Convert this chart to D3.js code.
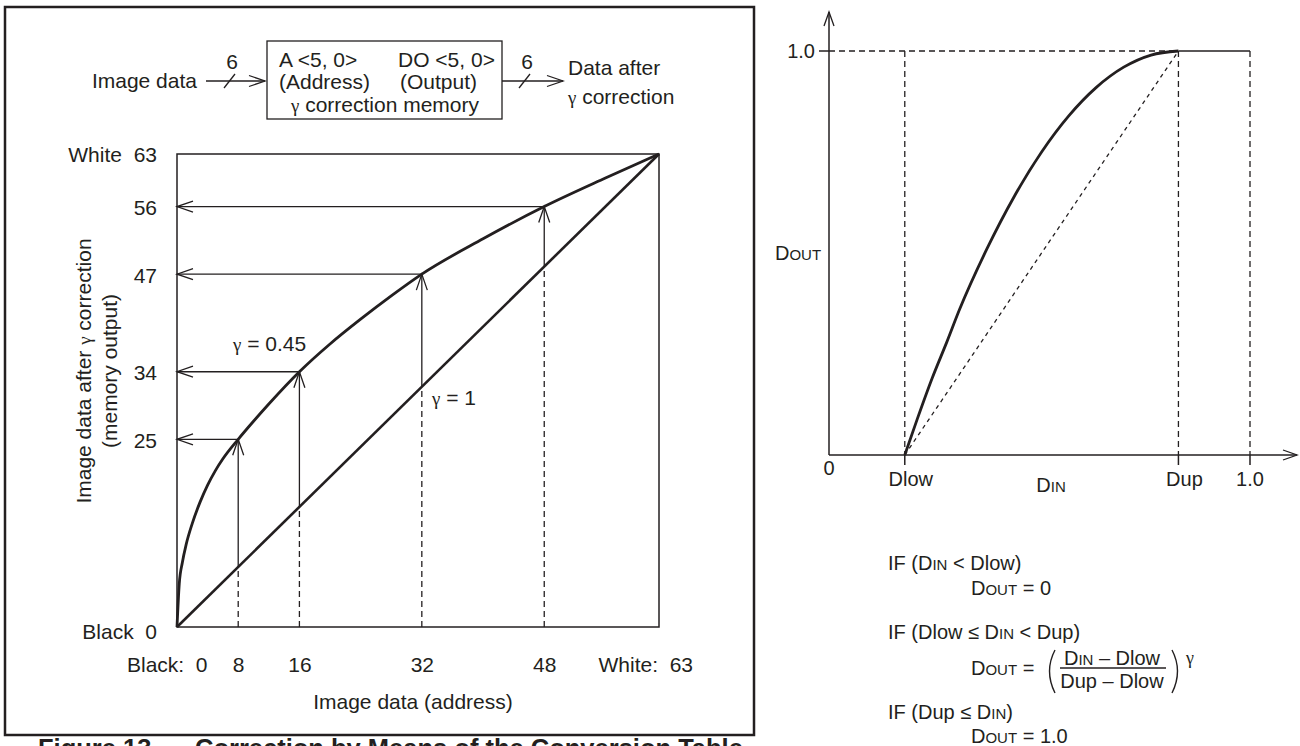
<!DOCTYPE html>
<html>
<head>
<meta charset="utf-8">
<script src="https://cdn.jsdelivr.net/npm/d3@7"></script>
<style>
  body { margin: 0; background: #fff; }
  svg text { font-family: "Liberation Sans", Arial, sans-serif; fill: #231f20; }
  svg .gam { font-family: "Liberation Serif", "DejaVu Serif", serif; }
</style>
</head>
<body>
<svg id="chart" width="1300" height="746"></svg>
<script>
// left chart: 6-bit gamma table (gamma = 0.45)
const addrTicks = [0, 8, 16, 32, 48, 63];
const addrLabels = ['Black:\u00a0 0', '8', '16', '32', '48', 'White:\u00a0 63'];
const outTicks = [0, 25, 34, 47, 56, 63];
const outLabels = ['Black\u00a0 0', '25', '34', '47', '56', 'White\u00a0 63'];
const sampleAddr = [8, 16, 32, 48];
const sampleOut = [25, 34, 47, 56];
// gamma 0.45 curve
const curveAddr = [0, 0.3, 0.7, 1.2, 2, 3, 4, 5, 6, 8, 10, 12, 16, 20, 24, 28, 32, 40, 48, 56, 63];
const curveOut = [0, 5.8, 8.6, 11.0, 13.8, 16.6, 18.9, 20.8, 22.4, 25, 27.4, 29.7, 34, 37.7, 41.0, 44.1, 47, 51.7, 56, 59.8, 63];
const linAddr = [0, 63];
const linOut = [0, 63];

// right chart: generic transfer function
const dLow = 0.18;
const dUp = 0.83;
const dinTicks = [0, dLow, dUp, 1.0];
const dinLabels = ['0', 'Dlow', 'Dup', '1.0'];
const tfIn = [0.18, 0.21, 0.245, 0.28, 0.31, 0.375, 0.44, 0.505, 0.57, 0.635, 0.70, 0.765, 0.83];
const tfOut = [0, 0.09, 0.19, 0.28, 0.36, 0.51, 0.64, 0.75, 0.84, 0.91, 0.96, 0.99, 1.0];

const ink = '#231f20';
const svg = d3.select('#chart');

// open arrow head, tip at (x, y), pointing along dir
function head(g, x, y, dir, len = 16, half = 5.5) {
  const bx = x - len * Math.cos(dir), by = y - len * Math.sin(dir);
  const px = -Math.sin(dir) * half, py = Math.cos(dir) * half;
  g.append('path')
    .attr('d', `M${bx + px},${by + py}L${x},${y}L${bx - px},${by - py}`)
    .attr('fill', 'none').attr('stroke', ink).attr('stroke-width', 1.3);
}

function line(g, x1, y1, x2, y2, w = 1.3, dash = null) {
  return g.append('line')
    .attr('x1', x1).attr('y1', y1).attr('x2', x2).attr('y2', y2)
    .attr('stroke', ink).attr('stroke-width', w)
    .attr('stroke-dasharray', dash);
}

// text made of pieces: [string, kind] kind: 0 normal, 1 small caps, 2 gamma
function rich(g, x, y, parts, size, anchor = 'start') {
  const t = g.append('text').attr('x', x).attr('y', y)
    .attr('text-anchor', anchor).style('font-size', size + 'px');
  parts.forEach(([s, k]) => {
    const sp = t.append('tspan').text(s);
    if (k === 1) sp.style('font-size', (size * 0.75) + 'px');
    if (k === 2) sp.attr('class', 'gam').style('font-size', (size * 0.9) + 'px');
  });
  return t;
}

// ---------- left panel ----------
const left = svg.append('g');
left.append('rect')
  .attr('x', 5).attr('y', 7).attr('width', 749).attr('height', 728)
  .attr('fill', 'none').attr('stroke', ink).attr('stroke-width', 2.5);

// caption, cut by the bottom edge as in the source
svg.append('text').attr('x', 38).attr('y', 757)
  .style('font-size', '25.5px').style('font-weight', 'bold').text('Figure 13');
svg.append('text').attr('x', 195).attr('y', 757)
  .style('font-size', '25.5px').style('font-weight', 'bold')
  .text('Correction by Means of the Conversion Table');

// block diagram
const blk = left.append('g');
blk.append('rect').attr('x', 267).attr('y', 41).attr('width', 235).attr('height', 78)
  .attr('fill', 'none').attr('stroke', ink).attr('stroke-width', 1.3);
rich(blk, 197, 88, [['Image data', 0]], 21, 'end');
line(blk, 206, 81, 265, 81);
head(blk, 265, 81, 0);
line(blk, 224, 88, 235, 74);
rich(blk, 232, 69, [['6', 0]], 21, 'middle');
rich(blk, 279, 67, [['A <5, 0>', 0]], 21);
rich(blk, 279, 89, [['(Address)', 0]], 21);
rich(blk, 398, 67, [['DO <5, 0>', 0]], 21);
rich(blk, 400, 89, [['(Output)', 0]], 21);
rich(blk, 385, 112, [['γ', 2], [' correction memory', 0]], 21, 'middle');
line(blk, 502, 81, 563, 81);
head(blk, 563, 81, 0);
line(blk, 519, 88, 530, 74);
rich(blk, 527, 69, [['6', 0]], 21, 'middle');
rich(blk, 568, 75, [['Data after', 0]], 21);
rich(blk, 568, 104, [['γ', 2], [' correction', 0]], 21);

// plot
const x = d3.scaleLinear().domain([0, 63]).range([177, 659]);
const y = d3.scaleLinear().domain([0, 63]).range([627, 154]);
const plot = left.append('g');

plot.append('rect')
  .attr('x', x(0)).attr('y', y(63))
  .attr('width', x(63) - x(0)).attr('height', y(0) - y(63))
  .attr('fill', 'none').attr('stroke', ink).attr('stroke-width', 1.5);

const yAxis = plot.append('g').attr('transform', `translate(${x(0)},0)`)
  .call(d3.axisLeft(y).tickValues(outTicks).tickSize(0).tickPadding(20)
    .tickFormat((d, i) => outLabels[i]));
const xAxis = plot.append('g').attr('transform', `translate(0,${y(0)})`)
  .call(d3.axisBottom(x).tickValues(addrTicks).tickSize(0).tickPadding(30)
    .tickFormat((d, i) => addrLabels[i]));
[yAxis, xAxis].forEach(a => {
  a.select('.domain').remove();
  a.selectAll('text').attr('fill', ink).style('font-size', '21px')
    .style('font-family', '"Liberation Sans", Arial, sans-serif');
});
yAxis.selectAll('text').attr('dy', d => d === 0 ? '0.57em' : '0.38em');
xAxis.selectAll('text')
  .attr('text-anchor', d => d === 0 ? 'end' : d === 63 ? 'start' : 'middle')
  .attr('x', d => d === 0 ? 30 : d === 63 ? -61 : 0);

// sample arrows
sampleAddr.forEach((a, i) => {
  const px = x(a), pDiag = y(a), pOut = y(sampleOut[i]);
  line(plot, px, y(0), px, pDiag, 1.3, '6,4');
  line(plot, px, pDiag, px, pOut);
  head(plot, px, pOut, -Math.PI / 2);
  line(plot, px, pOut, x(0), pOut);
  head(plot, x(0), pOut, Math.PI);
});

const lineGen = d3.line().x(d => x(d[0])).y(d => y(d[1]));
plot.append('path')
  .attr('d', lineGen(linAddr.map((a, i) => [a, linOut[i]])))
  .attr('fill', 'none').attr('stroke', ink).attr('stroke-width', 2.6);
plot.append('path')
  .attr('d', lineGen.curve(d3.curveMonotoneX)(curveAddr.map((a, i) => [a, curveOut[i]])))
  .attr('fill', 'none').attr('stroke', ink).attr('stroke-width', 2.8);

rich(plot, 233, 351, [['γ', 2], [' = 0.45', 0]], 21);
rich(plot, 432, 405, [['γ', 2], [' = 1', 0]], 21);

rich(plot, 413, 709, [['Image data (address)', 0]], 21, 'middle');
const yl1 = plot.append('g').attr('transform', 'translate(91,371) rotate(-90)');
rich(yl1, 0, 0, [['Image data after ', 0], ['γ', 2], [' correction', 0]], 21, 'middle');
const yl2 = plot.append('g').attr('transform', 'translate(117,371) rotate(-90)');
rich(yl2, 0, 0, [['(memory output)', 0]], 21, 'middle');

// ---------- right panel ----------
const xr = d3.scaleLinear().domain([0, 1]).range([829, 1250]);
const yr = d3.scaleLinear().domain([0, 1]).range([455, 51]);
const right = svg.append('g');

line(right, xr(0), yr(0), xr(0), 12, 1.5);
head(right, xr(0), 12, -Math.PI / 2, 14, 5);
line(right, xr(0), yr(0), 1297, yr(0), 1.5);
head(right, 1297, yr(0), 0, 14, 5);

line(right, xr(0) - 10, yr(1), xr(0), yr(1), 1.5);
line(right, xr(0), yr(1), xr(dUp), yr(1), 1.3, '6,4');
line(right, xr(dUp), yr(1), xr(1), yr(1), 1.5);
[dLow, dUp, 1.0].forEach(v => {
  line(right, xr(v), yr(1), xr(v), yr(0), 1.3, '6,4');
  line(right, xr(v), yr(0), xr(v), yr(0) + 10, 1.5);
});
line(right, xr(dLow), yr(0), xr(dUp), yr(1), 1.3, '4,4');

right.append('path')
  .attr('d', d3.line().x(d => xr(d[0])).y(d => yr(d[1])).curve(d3.curveMonotoneX)(
    tfIn.map((v, i) => [v, tfOut[i]])))
  .attr('fill', 'none').attr('stroke', ink).attr('stroke-width', 2.8);

rich(right, xr(0) - 14, yr(1) + 7, [['1.0', 0]], 20, 'end');
rich(right, 775, 260, [['D', 0], ['OUT', 1]], 20);
dinTicks.forEach((v, i) => {
  rich(right, xr(v) + (i === 0 || i === 3 ? 0 : 6), i === 0 ? yr(0) + 20 : yr(0) + 31,
    [[dinLabels[i], 0]], 20, 'middle');
});
rich(right, 1051, 492, [['D', 0], ['IN', 1]], 20, 'middle');

// formulas
const fx = 888, fx2 = 971;
rich(right, fx, 570, [['IF (', 0], ['D', 0], ['IN', 1], [' < Dlow)', 0]], 20);
rich(right, fx2, 595, [['D', 0], ['OUT', 1], [' = 0', 0]], 20);
rich(right, fx, 639, [['IF (Dlow ≤ ', 0], ['D', 0], ['IN', 1], [' < Dup)', 0]], 20);
rich(right, fx2, 675, [['D', 0], ['OUT', 1], [' =', 0]], 20);
right.append('path').attr('d', 'M1055,650Q1044,671 1055,693')
  .attr('fill', 'none').attr('stroke', ink).attr('stroke-width', 1.4);
right.append('path').attr('d', 'M1172,650Q1183,671 1172,693')
  .attr('fill', 'none').attr('stroke', ink).attr('stroke-width', 1.4);
rich(right, 1112, 665, [['D', 0], ['IN', 1], [' – Dlow', 0]], 20, 'middle');
line(right, 1060, 668, 1166, 668, 1.3);
rich(right, 1112, 688, [['Dup – Dlow', 0]], 20, 'middle');
rich(right, 1186, 664, [['γ', 2]], 20);
rich(right, fx, 719, [['IF (Dup ≤ ', 0], ['D', 0], ['IN', 1], [')', 0]], 20);
rich(right, fx2, 743, [['D', 0], ['OUT', 1], [' = 1.0', 0]], 20);
</script>
</body>
</html>
